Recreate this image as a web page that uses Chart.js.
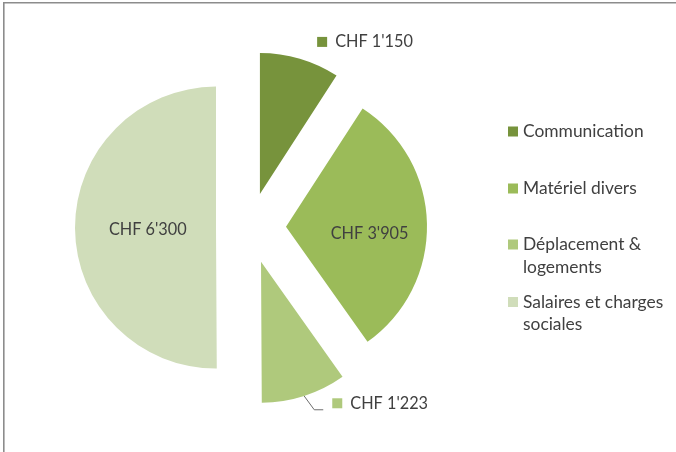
<!DOCTYPE html>
<html>
<head>
<meta charset="utf-8">
<script src="https://cdn.jsdelivr.net/npm/chart.js@4"></script>
<style>
html,body{margin:0;padding:0;background:#fff;}
#wrap{position:relative;width:676px;height:452px;}
</style>
</head>
<body>
<div id="wrap"><canvas id="c" width="676" height="452"></canvas></div>
<script>
// ---- data ----
const categories = ['Communication', 'Matériel divers', 'Déplacement & logements', 'Salaires et charges sociales'];
const legendLines = [['Communication'], ['Matériel divers'], ['Déplacement &', 'logements'], ['Salaires et charges', 'sociales']];
const values = [1150, 3905, 1223, 6300];
const currency = 'CHF';

// ---- styles ----
const sliceColors = ['#77933C', '#9BBB59', '#AFC97C', '#D0DDBA'];
const explode = [35, 36, 36, 34];
const textColor = '#404040';
const fontFamily = 'Lato, "Open Sans", sans-serif';
const labelFontSize = 16.3;
const legendFontSize = 17.4;

function fmt(v) {
  return currency + ' ' + String(v).replace(/\B(?=(\d{3})+(?!\d))/g, "'");
}

// label placement style: radius fraction, angle delta (deg)
const labelStyle = [
  {f: 1.165, d: 5.8, outside: true, leader: false},
  {f: 0.595, d: 6, outside: false},
  {f: 1.14, d: -10.5, outside: true, leader: true},
  {f: 0.484, d: -2, outside: false}
];

const explodePlugin = {
  id: 'explodePlugin',
  afterDatasetUpdate(chart, args) {
    args.meta.data.forEach((arc, i) => {
      const mid = (arc.startAngle + arc.endAngle) / 2;
      arc.x += Math.cos(mid) * explode[i];
      arc.y += Math.sin(mid) * explode[i];
    });
  }
};

const framePlugin = {
  id: 'framePlugin',
  beforeDraw(chart) {
    const ctx = chart.ctx;
    ctx.save();
    ctx.fillStyle = '#fff';
    ctx.fillRect(0, 0, chart.width, chart.height);
    ctx.strokeStyle = '#8c8c8c';
    ctx.lineWidth = 1.6;
    ctx.beginPath();
    ctx.moveTo(3.8, chart.height);
    ctx.lineTo(3.8, 2.8);
    ctx.lineTo(chart.width, 2.8);
    ctx.stroke();
    ctx.restore();
  }
};

const labelPlugin = {
  id: 'labelPlugin',
  afterDatasetsDraw(chart) {
    const ctx = chart.ctx;
    const meta = chart.getDatasetMeta(0);
    ctx.save();
    ctx.font = labelFontSize + 'px ' + fontFamily;
    ctx.textBaseline = 'middle';
    meta.data.forEach((arc, i) => {
      const st = labelStyle[i];
      const mid = (arc.startAngle + arc.endAngle) / 2;
      const a = mid + st.d * Math.PI / 180;
      const r = arc.outerRadius;
      const px = arc.x + Math.cos(a) * st.f * r;
      const py = arc.y + Math.sin(a) * st.f * r;
      const txt = fmt(values[i]);
      if (!st.outside) {
        ctx.fillStyle = textColor;
        ctx.textAlign = 'center';
        ctx.fillText(txt, px, py);
      } else {
        const sq = 10;
        const sx = px - sq / 2, sy = py - sq / 2;
        ctx.fillStyle = sliceColors[i];
        ctx.fillRect(sx, sy, sq, sq);
        ctx.fillStyle = textColor;
        ctx.textAlign = 'left';
        ctx.fillText(txt, sx + sq + 8, py);
        if (st.leader) {
          const ox = arc.x + Math.cos(mid) * r;
          const oy = arc.y + Math.sin(mid) * r;
          const ly = py + 6.5;
          ctx.strokeStyle = '#6d6d6d';
          ctx.lineWidth = 1;
          ctx.beginPath();
          ctx.moveTo(ox, oy);
          ctx.lineTo(sx - 18, ly);
          ctx.lineTo(sx - 9, ly);
          ctx.stroke();
        }
      }
    });
    // legend
    ctx.font = legendFontSize + 'px ' + fontFamily;
    const lx = 508, tx = 523;
    const rowY = [131.5, 188.5, 244.5, 302];
    const lineH = 22.5;
    legendLines.forEach((lines, i) => {
      ctx.fillStyle = sliceColors[i];
      ctx.fillRect(lx, rowY[i] - 5, 10, 10);
      ctx.fillStyle = textColor;
      ctx.textAlign = 'left';
      lines.forEach((ln, k) => ctx.fillText(ln, tx, rowY[i] + k * lineH));
    });
    ctx.restore();
  }
};

new Chart(document.getElementById('c'), {
  type: 'pie',
  data: {
    labels: categories,
    datasets: [{
      data: values,
      backgroundColor: sliceColors,
      borderWidth: 0
    }]
  },
  options: {
    responsive: false,
    animation: false,
    radius: 141,
    layout: {padding: {left: 0, right: 176, top: 3, bottom: 0}},
    plugins: {legend: {display: false}, tooltip: {enabled: false}}
  },
  plugins: [framePlugin, explodePlugin, labelPlugin]
});
</script>
</body>
</html>
